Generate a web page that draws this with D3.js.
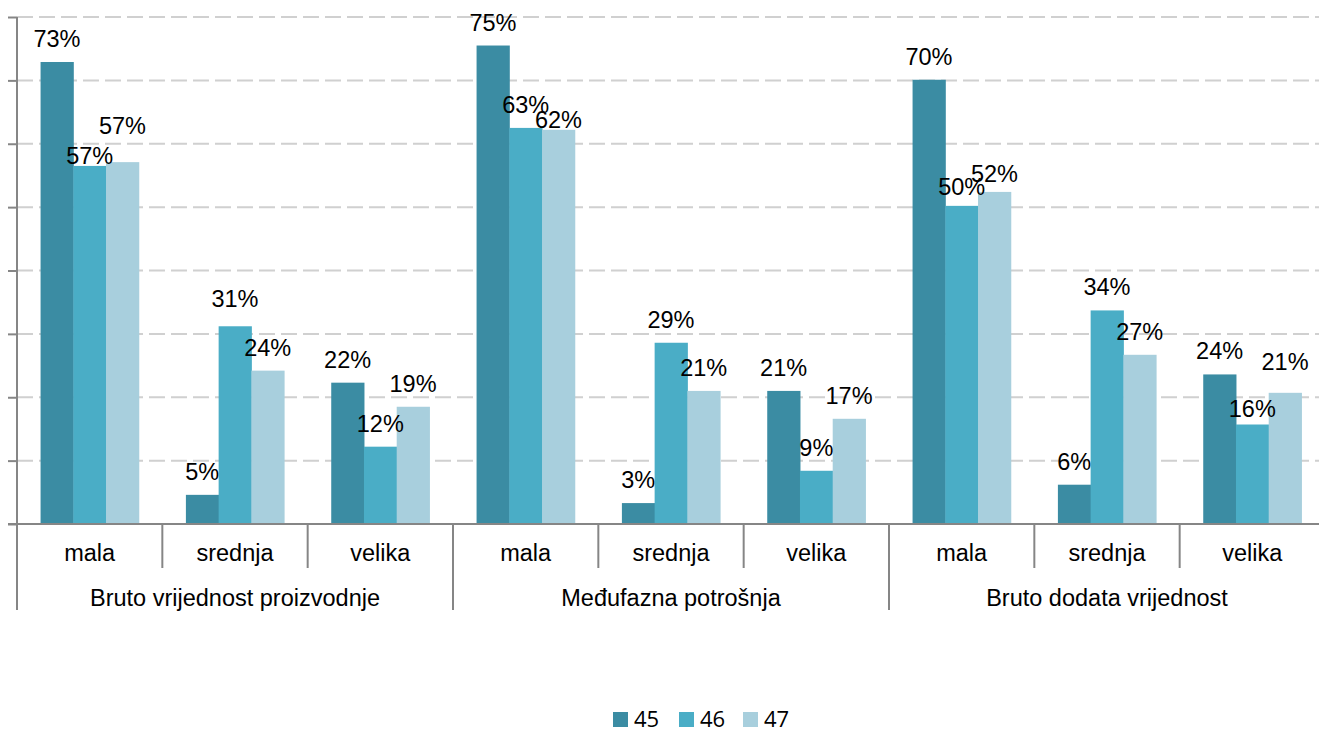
<!DOCTYPE html>
<html lang="en">
<head>
<meta charset="UTF-8">
<script src="https://d3js.org/d3.v7.min.js"></script>
<style>
    body { margin: 0; background: #fff; }
    .lbl { font-family: "Liberation Sans", Arial, sans-serif; font-size: 23.5px; fill: #000; }
    .leg { font-family: "Open Sans", sans-serif; font-size: 22px; fill: #000; }
</style>
</head>
<body>
<script>
// data
var groups = ["Bruto vrijednost proizvodnje", "Međufazna potrošnja", "Bruto dodata vrijednost"];
var sizes = ["mala", "srednja", "velika"];
var series = ["45", "46", "47"];
var colors = ["#3b8ca3", "#4aadc6", "#a8cfdd"];
// values in %, per series, in order group x size
var s45 = [72.9, 4.6, 22.3, 75.5, 3.3, 21.0, 70.1, 6.2, 23.6];
var s46 = [56.5, 31.2, 12.2, 62.5, 28.6, 8.4, 50.2, 33.7, 15.7];
var s47 = [57.1, 24.2, 18.5, 62.2, 21.0, 16.6, 52.4, 26.7, 20.7];
var labels45 = ["73%", "5%", "22%", "75%", "3%", "21%", "70%", "6%", "24%"];
var labels46 = ["57%", "31%", "12%", "63%", "29%", "9%", "50%", "34%", "16%"];
var labels47 = ["57%", "24%", "19%", "62%", "21%", "17%", "52%", "27%", "21%"];
var yTicks = [0, 10, 20, 30, 40, 50, 60, 70, 80];

// label nudges (vertical, px) where the original labels were moved by hand
var nudge = {"0-1": 13, "0-2": -13, "3-2": 13, "1-1": -4, "6-1": 4, "6-2": 5, "8-1": 7, "8-2": -8};

var W = 1319, H = 729;
var mLeft = 17, mRight = 1325, mTop = 17, base = 524;

var svg = d3.select("body").append("svg").attr("width", W).attr("height", H);

var cats = [];
groups.forEach(function (g, gi) {
    sizes.forEach(function (s, si) { cats.push(gi + "|" + s); });
});

var x = d3.scaleBand().domain(cats).range([mLeft, mRight]).padding(0);
var xs = d3.scaleBand().domain(series).range([0, x.bandwidth()]).paddingInner(0).paddingOuter(0.72);
var y = d3.scaleLinear().domain([0, 80]).range([base, mTop]);

// grid
svg.append("g").selectAll("line").data(yTicks.slice(1)).enter().append("line")
    .attr("x1", mLeft).attr("x2", W)
    .attr("y1", function (d) { return y(d); }).attr("y2", function (d) { return y(d); })
    .attr("stroke", "#d0d0d0").attr("stroke-width", 2).attr("stroke-dasharray", "16,6");

// bars
var table = [];
var vals = [s45, s46, s47], labs = [labels45, labels46, labels47];
cats.forEach(function (c, ci) {
    series.forEach(function (s, k) {
        table.push({cat: c, ci: ci, k: k, s: s, v: vals[k][ci], t: labs[k][ci]});
    });
});

svg.append("g").selectAll("rect").data(table).enter().append("rect")
    .attr("x", function (d) { return x(d.cat) + xs(d.s); })
    .attr("width", xs.bandwidth() + 0.5)
    .attr("y", function (d) { return y(d.v); })
    .attr("height", function (d) { return base - y(d.v); })
    .attr("fill", function (d) { return colors[d.k]; });

svg.append("g").selectAll("text").data(table).enter().append("text")
    .attr("class", "lbl")
    .attr("text-anchor", "middle")
    .attr("x", function (d) { return x(d.cat) + xs(d.s) + xs.bandwidth() / 2; })
    .attr("y", function (d) { return y(d.v) - 15 + (nudge[d.ci + "-" + d.k] || 0); })
    .text(function (d) { return d.t; });

// axes
var axisCol = "#868686";
var ya = svg.append("g").attr("transform", "translate(" + mLeft + ",0)")
    .call(d3.axisLeft(y).tickValues(yTicks).tickSize(9).tickFormat(""));
ya.select(".domain").remove();
ya.selectAll("line").attr("stroke", axisCol).attr("stroke-width", 2);
svg.append("line").attr("x1", mLeft).attr("x2", mLeft).attr("y1", mTop).attr("y2", 610)
    .attr("stroke", axisCol).attr("stroke-width", 2);
svg.append("line").attr("x1", 8).attr("x2", W).attr("y1", base).attr("y2", base)
    .attr("stroke", axisCol).attr("stroke-width", 2);

// category separators
cats.forEach(function (c, ci) {
    if (ci === 0) return;
    var xx = x(c);
    svg.append("line").attr("x1", xx).attr("x2", xx).attr("y1", base)
        .attr("y2", ci % 3 === 0 ? 610 : 568)
        .attr("stroke", axisCol).attr("stroke-width", 2);
});

svg.append("g").selectAll("text").data(cats).enter().append("text")
    .attr("class", "lbl")
    .attr("text-anchor", "middle")
    .attr("x", function (d) { return x(d) + x.bandwidth() / 2; })
    .attr("y", 561)
    .text(function (d) { return d.split("|")[1]; });

svg.append("g").selectAll("text").data(groups).enter().append("text")
    .attr("class", "lbl")
    .attr("text-anchor", "middle")
    .attr("x", function (d, i) { return x(i + "|mala") + x.bandwidth() * 1.5; })
    .attr("y", 606)
    .text(function (d) { return d; });

// legend
var legX = [613, 679, 743];
var leg = svg.append("g").selectAll("g").data(series).enter().append("g")
    .attr("transform", function (d, i) { return "translate(" + legX[i] + ",712)"; });
leg.append("rect").attr("width", 15).attr("height", 15)
    .attr("fill", function (d, i) { return colors[i]; });
leg.append("text").attr("class", "leg").attr("x", 21).attr("y", 15).text(function (d) { return d; });
</script>
</body>
</html>
